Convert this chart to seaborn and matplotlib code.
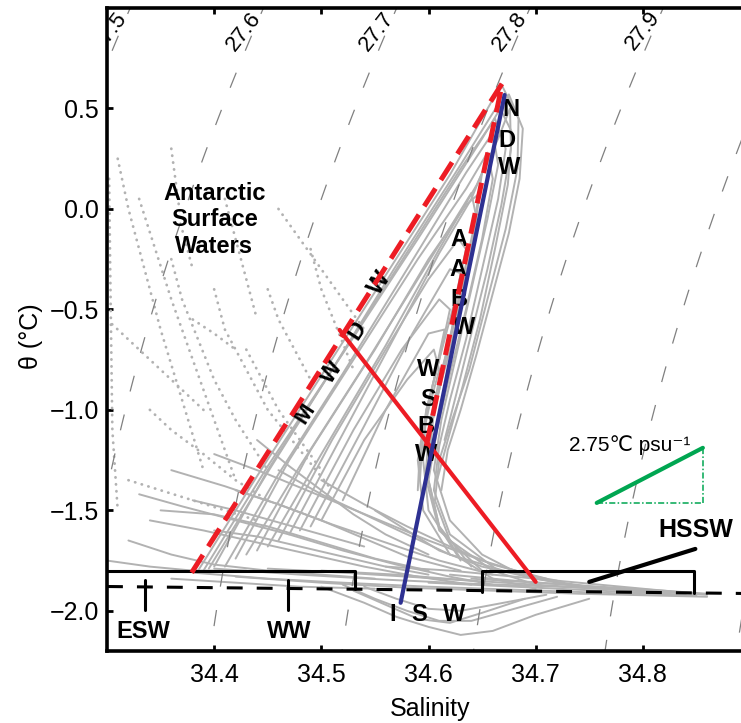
import numpy as np
import pandas as pd
import matplotlib
matplotlib.use("Agg")
import matplotlib.pyplot as plt
import seaborn as sns

# ---------------- data ----------------
x_ticks = [34.4, 34.5, 34.6, 34.7, 34.8]
y_ticks = [-2.0, -1.5, -1.0, -0.5, 0.0, 0.5]
sigma_levels = [27.5, 27.6, 27.7, 27.8, 27.9, 28.0, 28.1]
label_levels = [27.5, 27.6, 27.7, 27.8, 27.9]

# open-ocean (deep) profiles : salinity / potential temperature
deep_S = [
    [34.385, 34.44, 34.50, 34.56, 34.62, 34.668, 34.684, 34.683, 34.672, 34.655, 34.638, 34.622, 34.610, 34.606, 34.62, 34.66, 34.70],
    [34.40, 34.45, 34.51, 34.57, 34.63, 34.662, 34.672, 34.665, 34.65, 34.635, 34.62, 34.61, 34.605, 34.62, 34.67],
    [34.42, 34.47, 34.53, 34.59, 34.635, 34.655, 34.66, 34.65, 34.635, 34.62, 34.608, 34.60, 34.61, 34.64],
    [34.44, 34.49, 34.55, 34.60, 34.635, 34.648, 34.64, 34.625, 34.61, 34.60, 34.598, 34.61, 34.65],
    [34.46, 34.51, 34.56, 34.60, 34.628, 34.635, 34.625, 34.61, 34.598, 34.595, 34.60, 34.63],
    [34.48, 34.53, 34.575, 34.61, 34.62, 34.61, 34.598, 34.59, 34.595, 34.62],
    [34.39, 34.45, 34.52, 34.59, 34.65, 34.675, 34.688, 34.685, 34.675, 34.66, 34.645, 34.63, 34.618, 34.612],
    [34.41, 34.46, 34.52, 34.58, 34.635, 34.66, 34.665, 34.655, 34.64, 34.625, 34.612, 34.605],
    [34.43, 34.48, 34.54, 34.59, 34.625, 34.64, 34.645, 34.635, 34.62, 34.605, 34.60],
    [34.50, 34.54, 34.58, 34.605, 34.61, 34.60, 34.592, 34.59],
    [34.45, 34.50, 34.56, 34.61, 34.645, 34.665, 34.676, 34.677, 34.668, 34.655, 34.64, 34.626, 34.615],
    [34.395, 34.45, 34.51, 34.57, 34.63, 34.665, 34.678, 34.674, 34.662, 34.648, 34.632, 34.618, 34.608],
    [34.47, 34.52, 34.57, 34.61, 34.64, 34.65, 34.642, 34.628, 34.614, 34.604, 34.60],
    [34.49, 34.54, 34.585, 34.62, 34.63, 34.622, 34.61, 34.60, 34.596],
    [34.52, 34.56, 34.60, 34.615, 34.605, 34.595, 34.592],
    [34.605, 34.62, 34.65, 34.69, 34.74],
    [34.60, 34.61, 34.63, 34.66, 34.70],
]
deep_T = [
    [-1.80, -1.33, -0.83, -0.33, 0.17, 0.62, 0.45, 0.20, -0.10, -0.45, -0.80, -1.05, -1.25, -1.45, -1.65, -1.80, -1.87],
    [-1.78, -1.30, -0.80, -0.30, 0.20, 0.45, 0.30, 0.05, -0.30, -0.65, -0.95, -1.18, -1.40, -1.62, -1.82],
    [-1.74, -1.25, -0.75, -0.25, 0.10, 0.28, 0.15, -0.15, -0.50, -0.82, -1.10, -1.35, -1.58, -1.78],
    [-1.70, -1.20, -0.70, -0.25, 0.02, 0.08, -0.20, -0.55, -0.85, -1.10, -1.35, -1.60, -1.80],
    [-1.65, -1.15, -0.70, -0.35, -0.15, -0.20, -0.45, -0.75, -1.00, -1.25, -1.50, -1.75],
    [-1.60, -1.10, -0.70, -0.45, -0.50, -0.75, -1.00, -1.25, -1.50, -1.72],
    [-1.80, -1.28, -0.72, -0.15, 0.35, 0.57, 0.40, 0.15, -0.12, -0.42, -0.72, -1.00, -1.20, -1.40],
    [-1.78, -1.32, -0.82, -0.30, 0.18, 0.38, 0.22, -0.05, -0.40, -0.75, -1.05, -1.30],
    [-1.72, -1.28, -0.78, -0.35, -0.05, 0.08, -0.05, -0.35, -0.70, -1.00, -1.25],
    [-1.55, -1.15, -0.85, -0.70, -0.80, -1.00, -1.20, -1.40],
    [-1.68, -1.22, -0.68, -0.20, 0.12, 0.35, 0.50, 0.30, 0.02, -0.30, -0.62, -0.92, -1.15],
    [-1.79, -1.31, -0.80, -0.28, 0.22, 0.52, 0.38, 0.12, -0.20, -0.55, -0.88, -1.15, -1.35],
    [-1.62, -1.12, -0.62, -0.22, 0.05, 0.18, -0.10, -0.45, -0.78, -1.05, -1.30],
    [-1.58, -1.08, -0.62, -0.30, -0.32, -0.60, -0.90, -1.15, -1.40],
    [-1.45, -1.00, -0.62, -0.60, -0.85, -1.10, -1.35],
    [-1.30, -1.55, -1.72, -1.83, -1.88],
    [-1.35, -1.58, -1.74, -1.84, -1.89],
]

# winter-water / mixing region profiles
mid_S = [
    [34.33, 34.37, 34.42, 34.47, 34.52, 34.57, 34.62, 34.66],
    [34.34, 34.39, 34.44, 34.49, 34.54, 34.59, 34.64],
    [34.36, 34.41, 34.46, 34.51, 34.56, 34.61, 34.66],
    [34.40, 34.45, 34.50, 34.55, 34.60, 34.65, 34.70],
    [34.32, 34.36, 34.40, 34.45, 34.50, 34.55],
    [34.46, 34.50, 34.54, 34.58, 34.62, 34.67, 34.72],
    [34.50, 34.54, 34.58, 34.62, 34.66, 34.71],
    [34.38, 34.42, 34.46, 34.50, 34.54],
    [34.30, 34.34, 34.38, 34.43],
    [34.55, 34.58, 34.61, 34.65, 34.70, 34.75],
    [34.35, 34.40, 34.45, 34.50, 34.55, 34.60],
    [34.42, 34.46, 34.50, 34.54, 34.58, 34.63],
    [34.40, 34.44, 34.48, 34.52, 34.56, 34.60],
    [34.44, 34.47, 34.50, 34.53, 34.56, 34.60],
]
mid_T = [
    [-1.42, -1.48, -1.55, -1.62, -1.70, -1.77, -1.83, -1.87],
    [-1.55, -1.60, -1.66, -1.72, -1.78, -1.83, -1.87],
    [-1.30, -1.38, -1.47, -1.57, -1.66, -1.75, -1.82],
    [-1.22, -1.32, -1.43, -1.54, -1.65, -1.75, -1.83],
    [-1.65, -1.72, -1.77, -1.80, -1.82, -1.84],
    [-1.30, -1.42, -1.52, -1.62, -1.72, -1.80, -1.85],
    [-1.35, -1.47, -1.58, -1.68, -1.77, -1.84],
    [-1.45, -1.50, -1.56, -1.62, -1.68],
    [-1.75, -1.78, -1.80, -1.80],
    [-1.50, -1.60, -1.70, -1.78, -1.84, -1.88],
    [-1.50, -1.52, -1.58, -1.66, -1.74, -1.80],
    [-1.40, -1.47, -1.55, -1.64, -1.73, -1.80],
    [-1.60, -1.63, -1.68, -1.73, -1.78, -1.82],
    [-1.15, -1.28, -1.40, -1.52, -1.62, -1.72],
]

# continental-shelf profiles (near the freezing point)
shelf_S = [
    [34.38, 34.45, 34.52, 34.60, 34.68, 34.76, 34.85],
    [34.42, 34.50, 34.58, 34.66, 34.74, 34.82, 34.86],
    [34.50, 34.57, 34.64, 34.70, 34.76, 34.82],
    [34.56, 34.62, 34.68, 34.74, 34.80, 34.85],
    [34.60, 34.66, 34.72, 34.78, 34.84],
    [34.62, 34.68, 34.74, 34.80],
    [34.45, 34.52, 34.58, 34.64],
    [34.36, 34.42, 34.48, 34.55],
    [34.40, 34.48, 34.56, 34.64, 34.72, 34.80, 34.86],
    [34.64, 34.70, 34.76, 34.82, 34.86],
]
shelf_T = [
    [-1.81, -1.84, -1.86, -1.88, -1.895, -1.91, -1.925],
    [-1.83, -1.86, -1.885, -1.90, -1.915, -1.925, -1.93],
    [-1.80, -1.82, -1.85, -1.87, -1.89, -1.91],
    [-1.78, -1.80, -1.83, -1.86, -1.89, -1.915],
    [-1.86, -1.875, -1.89, -1.905, -1.92],
    [-1.82, -1.85, -1.875, -1.90],
    [-1.79, -1.81, -1.83, -1.85],
    [-1.84, -1.86, -1.88, -1.89],
    [-1.79, -1.82, -1.845, -1.865, -1.88, -1.90, -1.92],
    [-1.84, -1.86, -1.88, -1.90, -1.915],
]

# ice-shelf water lobe
isw_S = [
    [34.50, 34.54, 34.57, 34.60, 34.63, 34.66, 34.70, 34.75],
    [34.52, 34.55, 34.58, 34.61, 34.64, 34.68, 34.72],
    [34.54, 34.57, 34.60, 34.63, 34.67, 34.71],
    [34.53, 34.56, 34.59, 34.62, 34.65, 34.69],
]
isw_T = [
    [-1.88, -1.96, -2.03, -2.08, -2.12, -2.10, -2.02, -1.94],
    [-1.87, -1.94, -2.00, -2.05, -2.05, -1.99, -1.93],
    [-1.88, -1.94, -1.99, -2.00, -1.96, -1.92],
    [-1.90, -1.97, -2.04, -2.06, -2.01, -1.94],
]

# sparse Antarctic Surface Water profiles
surf_S = [
    [34.302, 34.303, 34.304, 34.305, 34.31],
    [34.31, 34.32, 34.335, 34.35, 34.37, 34.39],
    [34.33, 34.345, 34.36, 34.38, 34.40, 34.42],
    [34.36, 34.37, 34.385, 34.40, 34.42, 34.45],
    [34.40, 34.41, 34.43, 34.45, 34.48, 34.51],
    [34.43, 34.445, 34.46, 34.48, 34.50],
    [34.45, 34.46, 34.475, 34.49],
    [34.49, 34.50, 34.515, 34.53],
    [34.34, 34.36, 34.39, 34.42, 34.45],
    [34.30, 34.33, 34.36, 34.39],
    [34.36, 34.365, 34.37, 34.38],
    [34.41, 34.42, 34.43, 34.44],
    [34.32, 34.35, 34.38, 34.41, 34.44],
    [34.46, 34.48, 34.50, 34.52, 34.54],
    [34.38, 34.40, 34.42],
]
surf_T = [
    [0.15, -0.30, -0.70, -1.10, -1.50],
    [0.25, 0.00, -0.30, -0.60, -0.95, -1.30],
    [0.05, -0.20, -0.45, -0.75, -1.05, -1.35],
    [-0.25, -0.45, -0.65, -0.85, -1.05, -1.30],
    [-0.40, -0.60, -0.80, -1.00, -1.20, -1.40],
    [-0.70, -0.85, -1.00, -1.15, -1.30],
    [-0.40, -0.55, -0.70, -0.85],
    [-0.20, -0.40, -0.60, -0.80],
    [-1.00, -1.10, -1.22, -1.35, -1.45],
    [-0.55, -0.70, -0.85, -1.00],
    [0.30, 0.10, -0.10, -0.30],
    [0.05, -0.15, -0.35, -0.55],
    [-1.35, -1.40, -1.45, -1.50, -1.55],
    [0.00, -0.15, -0.30, -0.45, -0.60],
    [-0.55, -0.62, -0.70],
]

# annotation lines
red_dash_S = [34.379, 34.669, 34.598]
red_dash_T = [-1.81, 0.627, -1.18]
red_solid_S = [34.517, 34.700]
red_solid_T = [-0.602, -1.856]
blue_S = [34.671, 34.574]
blue_T = [0.567, -1.960]
freeze_S = [34.30, 34.90]
freeze_T = [-1.879, -1.914]
left_box_S = [34.30, 34.531, 34.531]
left_box_T = [-1.804, -1.804, -1.890]
right_box_S = [34.65, 34.65, 34.848, 34.848]
right_box_T = [-1.905, -1.801, -1.801, -1.912]
marker_S = [34.335, 34.469]
marker_T = [-1.849, -1.995]
hssw_S = [34.750, 34.849]
hssw_T = [-1.856, -1.692]
slope_S = [34.757, 34.856]
slope_T = [-1.463, -1.189]

# ---------------- figure ----------------
sns.set_theme(style="white")
plt.rcParams["font.family"] = ["Liberation Sans", "DejaVu Sans"]
plt.rcParams["axes.unicode_minus"] = True
plt.rcParams["text.color"] = "black"
plt.rcParams["axes.labelcolor"] = "black"
plt.rcParams["xtick.color"] = "black"
plt.rcParams["ytick.color"] = "black"

fig = plt.figure(figsize=(7.41, 7.23), dpi=100)
ax = fig.add_axes([107 / 741, 72 / 723, 643 / 741, 643 / 723])
ax.set_xlim(34.3, 34.9)
ax.set_ylim(-2.2, 1.0)

GRAY = "#b2b2b2"


def frame(S_list, T_list, tag):
    rows = []
    for k, (ss, tt) in enumerate(zip(S_list, T_list)):
        for i, (s, t) in enumerate(zip(ss, tt)):
            rows.append({"S": s, "T": t, "pid": f"{tag}{k}", "order": i})
    return pd.DataFrame(rows)


dense = pd.concat([frame(deep_S, deep_T, "d"), frame(mid_S, mid_T, "m"),
                   frame(shelf_S, shelf_T, "s"), frame(isw_S, isw_T, "i")],
                  ignore_index=True)
sparse = frame(surf_S, surf_T, "u")

sns.lineplot(data=dense, x="S", y="T", units="pid", estimator=None, sort=False,
             color=GRAY, lw=1.4, ax=ax, zorder=1, legend=False)
sns.lineplot(data=sparse, x="S", y="T", units="pid", estimator=None, sort=False,
             color=GRAY, lw=2.0, linestyle=(0, (0.1, 2.4)), dash_capstyle="round",
             ax=ax, zorder=1, legend=False)


# density (sigma-theta) contours from the UNESCO equation of state at p = 0
def sigma0(S, T):
    rho_w = (999.842594 + 6.793952e-2 * T - 9.095290e-3 * T ** 2 + 1.001685e-4 * T ** 3
             - 1.120083e-6 * T ** 4 + 6.536332e-9 * T ** 5)
    A = 8.24493e-1 - 4.0899e-3 * T + 7.6438e-5 * T ** 2 - 8.2467e-7 * T ** 3 + 5.3875e-9 * T ** 4
    B = -5.72466e-3 + 1.0227e-4 * T - 1.6546e-6 * T ** 2
    C = 4.8314e-4
    return rho_w + A * S + B * S ** 1.5 + C * S ** 2 - 1000.0


sg = np.linspace(34.2, 35.0, 400)
tg = np.linspace(-2.3, 1.1, 400)
SS, TT = np.meshgrid(sg, tg)
cs = ax.contour(SS, TT, sigma0(SS, TT), levels=sigma_levels, colors="#808080",
                linewidths=0.9, zorder=2)
cs.set_linestyle((0, (13, 19)))

fine = np.linspace(34.0, 35.2, 6000)
for lev in label_levels:
    s_lab = np.interp(lev, sigma0(fine, 0.88), fine)
    ax.text(s_lab - 0.009, 0.885, f"{lev:.1f}", rotation=52, ha="center", va="center",
            fontsize=16, color="black", clip_on=True, zorder=3)

# annotation lines
ax.plot(red_dash_S, red_dash_T, color="#ed1c24", lw=3.6, linestyle=(0, (4.2, 2.0)),
        zorder=5, solid_joinstyle="miter")
ax.plot(red_solid_S, red_solid_T, color="#ed1c24", lw=3.0, zorder=5)
ax.plot(blue_S, blue_T, color="#2e3192", lw=3.0, zorder=6)
ax.plot(freeze_S, freeze_T, color="black", lw=2.2, linestyle=(0, (5.2, 4.6)), zorder=4)
ax.plot(left_box_S, left_box_T, color="black", lw=2.2, zorder=4)
ax.plot(right_box_S, right_box_T, color="black", lw=2.2, zorder=4)
for s in marker_S:
    ax.plot([s, s], marker_T, color="black", lw=2.2, zorder=4)
ax.plot(hssw_S, hssw_T, color="black", lw=3.0, zorder=4)

GREEN = "#00a651"
ax.plot(slope_S, slope_T, color=GREEN, lw=3.0, zorder=4)
ax.plot([slope_S[0], slope_S[1]], [slope_T[0], slope_T[0]], color=GREEN, lw=1.1,
        linestyle=(0, (4, 1.5, 1, 1.5)), zorder=4)
ax.plot([slope_S[1], slope_S[1]], [slope_T[0], slope_T[1]], color=GREEN, lw=1.1,
        linestyle=(0, (4, 1.5, 1, 1.5)), zorder=4)

# text labels
bold = dict(fontsize=17, fontweight="bold", ha="center", va="center", zorder=3, color="black")
ax.text(34.400, -0.055, "Antarctic\nSurface\nWaters", linespacing=1.2, **bold)
for ch, s, t in zip("NDW", [34.677, 34.673, 34.675], [0.493, 0.343, 0.204]):
    ax.text(s, t, ch, **bold)
for ch, s, t in zip("AABW", [34.628, 34.627, 34.628, 34.633], [-0.154, -0.303, -0.453, -0.592]):
    ax.text(s, t, ch, **bold)
for ch, s, t in zip("WSBW", [34.600, 34.600, 34.598, 34.598], [-0.801, -0.950, -1.085, -1.224]):
    ax.text(s, t, ch, **bold)
for ch, s, t in zip("MWDW", [34.484, 34.510, 34.533, 34.554], [-1.015, -0.811, -0.602, -0.368]):
    ax.text(s, t, ch, rotation=57, rotation_mode="anchor", **bold)
for ch, s in zip("ISW", [34.567, 34.591, 34.624]):
    ax.text(s, -2.020, ch, **bold)
ax.text(34.334, -2.104, "ESW", **bold)
ax.text(34.470, -2.104, "WW", **bold)
ax.text(34.849, -1.597, "HSSW", fontsize=18, fontweight="bold", ha="center", va="center",
        color="black")
ax.text(34.731, -1.174, "2.75℃ psu⁻¹", fontsize=15, ha="left", va="center",
        family=["Liberation Sans", "DejaVu Sans"], color="black")

# axes styling
ax.set_xticks(x_ticks)
ax.set_yticks(y_ticks)
ax.set_xticklabels([f"{v:.1f}" for v in x_ticks])
ax.set_yticklabels([f"{v:.1f}".replace("-", "\u2212") for v in y_ticks])
ax.tick_params(axis="both", direction="in", length=4, width=2, labelsize=18,
               colors="black", top=True, right=False, bottom=True, left=True)
ax.tick_params(axis="x", pad=9)
ax.tick_params(axis="y", pad=6)
for side in ["left", "bottom", "top", "right"]:
    ax.spines[side].set_color("black")
    ax.spines[side].set_linewidth(2.6)
ax.set_xlabel("Salinity", fontsize=18, color="black")
ax.set_ylabel("θ (°C)", fontsize=18, color="black")
ax.xaxis.set_label_coords(0.502, -0.072)
ax.yaxis.set_label_coords(-0.10, 0.49)
ax.grid(False)

fig.savefig("out.png", dpi=100, facecolor="white")
